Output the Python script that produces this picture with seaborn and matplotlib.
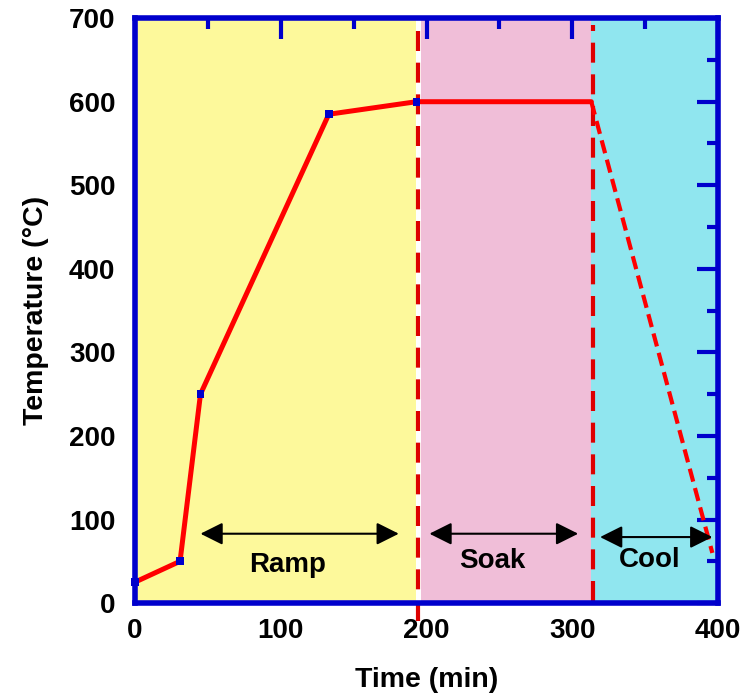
import matplotlib
matplotlib.use("Agg")
import matplotlib.pyplot as plt
import numpy as np
import pandas as pd
import seaborn as sns

# ---------------- data ----------------
ramp_time = [0, 31, 45, 133, 193, 313]
ramp_temp = [25, 50, 250, 585, 600, 600]
cool_time = [313, 396]
cool_temp = [600, 60]

phase_names = ["Ramp", "Soak", "Cool"]
phase_start = [0, 196, 313]
phase_end = [193, 313, 400]
phase_colors = ["#FDF99B", "#F0BED8", "#90E6EF"]
divider_time = [194, 314]

arrow_from = [45, 202, 319]
arrow_to = [181, 304, 396]
arrow_y = [83, 83, 79]
label_x = [105, 245, 353]
label_y = [45, 50, 52]

sns.set_style("white")
plt.rcParams['font.family'] = ['Liberation Sans', 'DejaVu Sans']
plt.rcParams['font.weight'] = 'bold'
plt.rcParams['text.color'] = 'black'
plt.rcParams['axes.labelcolor'] = 'black'
plt.rcParams['xtick.labelcolor'] = 'black'
plt.rcParams['ytick.labelcolor'] = 'black'

blue = "#0000CC"
fig = plt.figure(figsize=(7.45, 6.98), dpi=100)
ax = fig.add_axes([0.181, 0.136, 0.783, 0.838])

# background bands for the three stages
for s, e, c in zip(phase_start, phase_end, phase_colors):
    ax.axvspan(s, e, color=c, lw=0, zorder=0)

# dashed dividers
ax.plot([divider_time[0]] * 2, [-22, 700], color="#DD0000", lw=3, ls=(0, (4.8, 2.8)),
        clip_on=False, zorder=2)
ax.plot([divider_time[1]] * 2, [2, 692], color="#DD0000", lw=3, ls=(0, (4.8, 2.8)),
        zorder=2)

ramp = pd.DataFrame({"time": ramp_time, "temp": ramp_temp})
cool = pd.DataFrame({"time": cool_time, "temp": cool_temp})
sns.lineplot(data=ramp, x="time", y="temp", color="red", lw=3.6, ax=ax,
             estimator=None, sort=False, zorder=3)
sns.lineplot(data=cool, x="time", y="temp", color="red", lw=3, ls=(0, (3.2, 1.6)),
             ax=ax, estimator=None, sort=False, zorder=3)
sns.scatterplot(data=ramp.iloc[:5], x="time", y="temp", color=blue, marker="s",
                s=30, edgecolor="none", ax=ax, zorder=4, clip_on=False)

# stage arrows and labels
for a0, a1, y, lx, ly, name in zip(arrow_from, arrow_to, arrow_y, label_x, label_y, phase_names):
    ax.annotate("", xy=(a0, y), xytext=(a1, y),
                arrowprops=dict(arrowstyle="<|-|>", color="black", lw=1.5,
                                mutation_scale=34, shrinkA=0, shrinkB=0), zorder=5)
    ax.text(lx, ly, name, fontsize=20, fontweight="bold", ha="center", va="center", zorder=5)

ax.set_xlim(0, 400)
ax.set_ylim(0, 700)
ax.set_xticks(np.arange(0, 401, 100))
ax.set_xticks(np.arange(50, 400, 100), minor=True)
ax.set_yticks(np.arange(0, 701, 100))
ax.set_yticks(np.arange(50, 700, 100), minor=True)
ax.tick_params(which="both", direction="in", top=True, right=True, color=blue,
               labelsize=20)
ax.tick_params(axis="x", pad=11)
ax.tick_params(axis="y", pad=14)
ax.tick_params(which="major", length=15, width=3)
ax.tick_params(which="minor", length=8, width=3)
for lab in ax.get_xticklabels() + ax.get_yticklabels():
    lab.set_fontweight("bold")
for sp in ax.spines.values():
    sp.set_color(blue)
    sp.set_linewidth(4)
    sp.set_zorder(6)

ax.set_xlabel("Time (min)", fontsize=20.5, fontweight="bold", labelpad=16)
ax.set_ylabel("Temperature (°C)", fontsize=20.5, fontweight="bold", labelpad=14)

fig.savefig("out.png", dpi=100)
